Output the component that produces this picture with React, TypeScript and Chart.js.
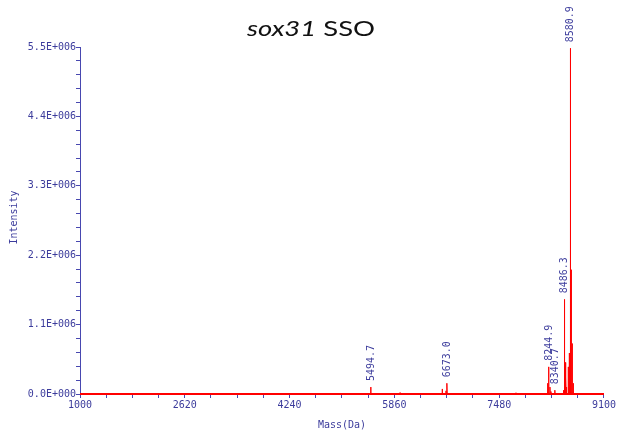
import React, { useEffect, useRef } from 'react';
import { Chart, registerables } from 'chart.js';

Chart.register(...registerables);

const titleItalic = 'sox31';
const titleRegular = ' SSO';
const xAxisTitle = 'Mass(Da)';
const yAxisTitle = 'Intensity';

// Spectrum trace (mass in Da, intensity in counts)
const massValues = [
  1000,
  5491.7, 5494.7, 5497.7,
  5944, 5947, 5950,
  6597, 6600, 6603,
  6655, 6658, 6661,
  6670, 6673.0, 6676,
  7737, 7740, 7743,
  8226, 8229, 8232,
  8241.9, 8244.9, 8247.9,
  8262, 8265, 8268,
  8278, 8281, 8284,
  8337.7, 8340.7, 8343.7,
  8472, 8475, 8478,
  8483.3, 8486.3, 8489.3,
  8496, 8499, 8502,
  8509, 8512, 8515,
  8519, 8522, 8525,
  8545, 8548, 8551,
  8561, 8564, 8567,
  8577.9, 8580.9, 8583.9,
  8591, 8594, 8597,
  8606, 8609, 8612,
  8622, 8625, 8628,
  9100,
];
const intensityValues = [
  0,
  0, 110000, 0,
  0, 20000, 0,
  0, 80000, 0,
  0, 50000, 0,
  0, 170000, 0,
  0, 20000, 0,
  0, 170000, 0,
  0, 430000, 0,
  0, 110000, 0,
  0, 40000, 0,
  0, 60000, 0,
  0, 60000, 0,
  0, 1500000, 0,
  0, 500000, 0,
  0, 270000, 0,
  0, 110000, 0,
  0, 430000, 0,
  0, 650000, 0,
  0, 5480000, 0,
  0, 1970000, 0,
  0, 800000, 0,
  0, 170000, 0,
  0,
];

const baselineMass = [1000, 9100];
const baselineIntensity = [0, 0];

const labeledMasses = [5494.7, 6673.0, 8244.9, 8340.7, 8486.3, 8580.9];
const labeledIntensities = [110000, 170000, 430000, 60000, 1500000, 5480000];
const labelTexts = ['5494.7', '6673.0', '8244.9', '8340.7', '8486.3', '8580.9'];

const xTickValues = [1000, 1405, 1810, 2215, 2620, 3025, 3430, 3835, 4240, 4645, 5050, 5455, 5860, 6265, 6670, 7075, 7480, 7885, 8290, 8695, 9100];
const xMajorTicks = [1000, 2620, 4240, 5860, 7480, 9100];
const yTickValues = [0, 220000, 440000, 660000, 880000, 1100000, 1320000, 1540000, 1760000, 1980000, 2200000, 2420000, 2640000, 2860000, 3080000, 3300000, 3520000, 3740000, 3960000, 4180000, 4400000, 4620000, 4840000, 5060000, 5280000, 5500000];
const yMajorTicks = [0, 1100000, 2200000, 3300000, 4400000, 5500000];
const yMajorLabels = ['0.0E+000', '1.1E+006', '2.2E+006', '3.3E+006', '4.4E+006', '5.5E+006'];

const AXIS_COLOR = '#4848b0';
const TEXT_COLOR = '#3c3c9c';
const MONO = '10px "DejaVu Sans Mono", monospace';

const overlayPlugin = {
  id: 'overlay',
  afterDraw(chart: any) {
    const ctx = chart.ctx as CanvasRenderingContext2D;
    const area = chart.chartArea;
    const xs = chart.scales.x;
    const ys = chart.scales.y;

    // Title
    ctx.save();
    ctx.fillStyle = '#111111';
    ctx.textBaseline = 'alphabetic';
    ctx.textAlign = 'left';
    const fItal = 'italic 21px Lato, "Open Sans", sans-serif';
    const fReg = '21px Lato, "Open Sans", sans-serif';
    ctx.font = fItal;
    const w1 = ctx.measureText(titleItalic).width;
    ctx.font = fReg;
    const w2 = ctx.measureText(titleRegular).width;
    const target = 128;
    const sx = target / (w1 + w2);
    ctx.translate(311 - target / 2, 36);
    ctx.scale(sx, 1);
    ctx.font = fItal;
    ctx.fillText(titleItalic, 0, 0);
    ctx.font = fReg;
    ctx.fillText(titleRegular, w1, 0);
    ctx.restore();

    // Axis titles
    ctx.save();
    ctx.font = MONO;
    ctx.fillStyle = TEXT_COLOR;
    ctx.textAlign = 'center';
    ctx.textBaseline = 'middle';
    ctx.fillText(xAxisTitle, (area.left + area.right) / 2, 425);
    ctx.translate(14, (area.top + area.bottom) / 2 - 3);
    ctx.rotate(-Math.PI / 2);
    ctx.fillText(yAxisTitle, 0, 0);
    ctx.restore();

    // Peak labels
    ctx.save();
    ctx.font = MONO;
    ctx.fillStyle = TEXT_COLOR;
    ctx.textAlign = 'left';
    ctx.textBaseline = 'middle';
    for (let i = 0; i < labeledMasses.length; i++) {
      const px = xs.getPixelForValue(labeledMasses[i]);
      const py = ys.getPixelForValue(labeledIntensities[i]);
      ctx.save();
      ctx.translate(px + 0.5, py - 6);
      ctx.rotate(-Math.PI / 2);
      ctx.fillText(labelTexts[i], 0, 0);
      ctx.restore();
    }
    ctx.restore();
  },
};

export default function App() {
  const canvasRef = useRef<HTMLCanvasElement | null>(null);

  useEffect(() => {
    document.body.style.margin = '0';
    const canvas = canvasRef.current;
    if (!canvas) return;
    const spectrum = massValues.map((m, i) => ({ x: m, y: intensityValues[i] }));
    const baseline = baselineMass.map((m, i) => ({ x: m, y: baselineIntensity[i] }));

    const chart = new Chart(canvas, {
      type: 'line',
      data: {
        datasets: [
          {
            label: 'baseline',
            data: baseline,
            borderColor: '#ff0000',
            borderWidth: 2,
            pointRadius: 0,
            clip: 4,
          } as any,
          {
            label: 'spectrum',
            data: spectrum,
            borderColor: '#ff0000',
            borderWidth: 1,
            pointRadius: 0,
            tension: 0,
            borderJoinStyle: 'bevel',
            clip: 4,
          } as any,
        ],
      },
      options: {
        responsive: false,
        animation: false,
        events: [],
        layout: { padding: { left: 0, right: 13, top: 47, bottom: 0 } },
        plugins: {
          legend: { display: false },
          tooltip: { enabled: false },
          title: { display: false },
        },
        scales: {
          x: {
            type: 'linear',
            min: 1000,
            max: 9100,
            afterBuildTicks: (scale: any) => {
              scale.ticks = xTickValues.map((v) => ({ value: v }));
            },
            afterFit: (scale: any) => {
              scale.height = 39;
            },
            ticks: {
              autoSkip: false,
              maxRotation: 0,
              minRotation: 0,
              padding: 1,
              color: TEXT_COLOR,
              font: { family: '"DejaVu Sans Mono", monospace', size: 10 },
              callback: (v: any) => (xMajorTicks.includes(Number(v)) ? String(v) : ''),
            },
            grid: {
              drawOnChartArea: false,
              drawTicks: true,
              tickLength: 4,
              color: AXIS_COLOR,
            },
            border: { display: true, color: AXIS_COLOR, width: 1 },
          },
          y: {
            type: 'linear',
            min: 0,
            max: 5500000,
            afterBuildTicks: (scale: any) => {
              scale.ticks = yTickValues.map((v) => ({ value: v }));
            },
            afterFit: (scale: any) => {
              scale.width = 80;
            },
            ticks: {
              autoSkip: false,
              padding: 0,
              color: TEXT_COLOR,
              font: { family: '"DejaVu Sans Mono", monospace', size: 10 },
              callback: (v: any) => {
                const idx = yMajorTicks.indexOf(Number(v));
                return idx >= 0 ? yMajorLabels[idx] : '';
              },
            },
            grid: {
              drawOnChartArea: false,
              drawTicks: true,
              tickLength: 4,
              color: AXIS_COLOR,
            },
            border: { display: true, color: AXIS_COLOR, width: 1 },
          },
        },
      },
      plugins: [overlayPlugin],
    });
    return () => chart.destroy();
  }, []);

  return (
    <div style={{ position: 'absolute', left: 0, top: 0, width: 617, height: 433, background: '#ffffff' }}>
      <canvas ref={canvasRef} width={617} height={433} style={{ display: 'block' }} />
    </div>
  );
}
